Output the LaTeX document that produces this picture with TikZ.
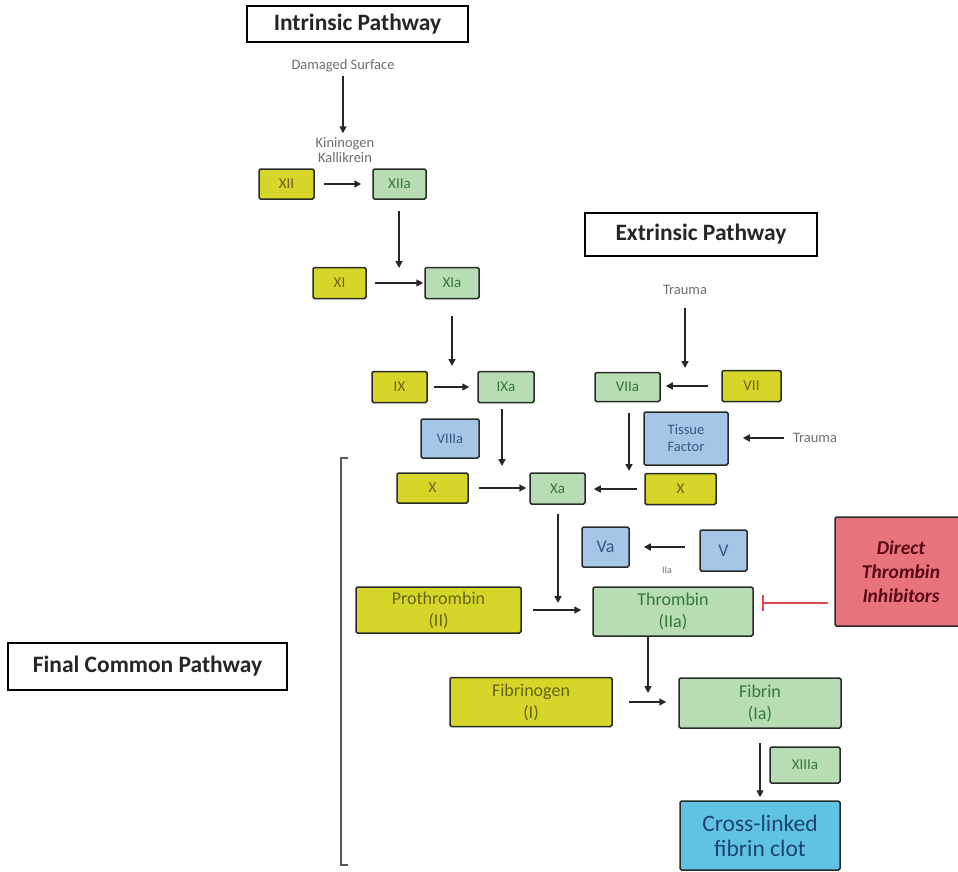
\documentclass[tikz,border=0pt]{standalone}
\usepackage{fontspec}
\setmainfont{Carlito}
\usetikzlibrary{arrows.meta}

\definecolor{yelfill}{RGB}{214,214,42}
\definecolor{yeltxt}{RGB}{104,100,18}
\definecolor{grnfill}{RGB}{184,221,180}
\definecolor{grntxt}{RGB}{52,120,56}
\definecolor{blufill}{RGB}{166,198,232}
\definecolor{blutxt}{RGB}{60,88,128}
\definecolor{clotfill}{RGB}{96,195,228}
\definecolor{clottxt}{RGB}{28,70,112}
\definecolor{dtifill}{RGB}{233,115,124}
\definecolor{dtitxt}{RGB}{88,10,22}
\definecolor{boxline}{RGB}{40,44,40}
\definecolor{arrcol}{RGB}{38,38,38}
\definecolor{lbltxt}{RGB}{110,110,110}
\definecolor{inhcol}{RGB}{225,70,78}

\begin{document}
\begin{tikzpicture}[x=1pt,y=-1pt,
  box/.style={draw=boxline, line width=1.5pt, rounded corners=1.5pt, inner sep=0pt,
              align=center, font=\fontsize{15}{17}\selectfont},
  yel/.style={box, fill=yelfill, text=yeltxt},
  grn/.style={box, fill=grnfill, text=grntxt},
  blu/.style={box, fill=blufill, text=blutxt},
  big/.style={font=\fontsize{18}{22}\selectfont},
  title/.style={draw=black, line width=1.4pt, fill=white, inner sep=0pt,
                font=\bfseries\fontsize{23.5}{26}\selectfont, text=black!85},
  lbl/.style={text=lbltxt, font=\fontsize{14.5}{15}\selectfont, align=center, inner sep=1pt},
  arr/.style={draw=arrcol, line width=1.6pt, -{Triangle[length=7pt,width=7pt]}},
  inh/.style={draw=inhcol, line width=1.7pt, -{Bar[width=16pt,line width=1.7pt]}}
]
\useasboundingbox (0,0) rectangle (958,872);
\clip (0,0) rectangle (958,872);

% ---- pathway titles
\node[title, minimum width=221pt, minimum height=36pt] (intr) at (357.5,24) {Intrinsic Pathway};
\node[title, minimum width=232pt, minimum height=43pt] (extr) at (701,234.5) {Extrinsic Pathway};
\node[title, minimum width=279pt, minimum height=47pt] (fcp) at (147.5,666.5) {Final Common Pathway};

% ---- intrinsic pathway
\node[lbl] (dmg) at (343,66) {Damaged Surface};
\node[lbl] (kin) at (345,150) {Kininogen\\Kallikrein};
\node[yel, minimum width=55pt, minimum height=30pt] (XII) at (286.5,184) {XII};
\node[grn, minimum width=53pt, minimum height=30pt] (XIIa) at (399.5,184) {XIIa};
\node[yel, minimum width=53pt, minimum height=31pt] (XI) at (339.5,283) {XI};
\node[grn, minimum width=54pt, minimum height=31pt] (XIa) at (452,283) {XIa};
\node[yel, minimum width=55pt, minimum height=31pt] (IX) at (399.5,387) {IX};
\node[grn, minimum width=56pt, minimum height=31pt] (IXa) at (506,387) {IXa};
\node[blu, minimum width=58pt, minimum height=39pt, font=\fontsize{14.5}{17}\selectfont] (VIIIa) at (450,438.5) {VIIIa};
\node[yel, minimum width=71pt, minimum height=30pt] (Xl) at (432.5,488) {X};
\node[grn, minimum width=55pt, minimum height=31pt] (Xa) at (557.5,488.5) {Xa};

% ---- extrinsic pathway
\node[lbl] (tr1) at (685,290) {Trauma};
\node[grn, minimum width=65pt, minimum height=29pt] (VIIa) at (627.5,387) {VIIa};
\node[yel, minimum width=59pt, minimum height=31pt] (VII) at (751.5,386) {VII};
\node[blu, minimum width=84pt, minimum height=53pt, font=\fontsize{14.5}{17}\selectfont] (TF) at (686,438.5) {Tissue\\Factor};
\node[lbl] (tr2) at (815,438) {Trauma};
\node[yel, minimum width=71pt, minimum height=31pt] (Xr) at (680.5,489) {X};

% ---- common pathway
\node[blu, minimum width=47pt, minimum height=40pt, font=\fontsize{18}{20}\selectfont] (Va) at (605.5,547) {Va};
\node[blu, minimum width=47pt, minimum height=41pt, font=\fontsize{18}{20}\selectfont] (V) at (723.5,550.5) {V};
\node[lbl, font=\fontsize{10}{12}\selectfont] (IIa) at (667,570) {IIa};
\node[yel, big, minimum width=165pt, minimum height=46pt] (Pro) at (438.5,610) {Prothrombin\\(II)};
\node[grn, big, minimum width=160pt, minimum height=49pt] (Thr) at (673,611.5) {Thrombin\\(IIa)};
\node[box, fill=dtifill, text=dtitxt, minimum width=132pt, minimum height=109pt,
      font=\bfseries\itshape\fontsize{19.5}{24}\selectfont] (DTI) at (901,571.5) {Direct\\Thrombin\\Inhibitors};
\node[yel, big, minimum width=162pt, minimum height=49pt] (Fgn) at (531,702) {Fibrinogen\\(I)};
\node[grn, big, minimum width=162pt, minimum height=50pt] (Fbn) at (760,703) {Fibrin\\(Ia)};
\node[grn, minimum width=70pt, minimum height=36pt] (XIIIa) at (805,765) {XIIIa};
\node[box, fill=clotfill, text=clottxt, minimum width=160pt, minimum height=69pt,
      font=\fontsize{23.5}{25}\selectfont] (clot) at (760,835.5) {Cross-linked\\fibrin clot};

% ---- free ends of arrows that point at a reaction
\coordinate (j1) at (399,268);
\coordinate (j2) at (452,366);
\coordinate (j3) at (502,466);
\coordinate (j4) at (685,368);
\coordinate (j5) at (629,471);
\coordinate (j6) at (558,603);
\coordinate (j7) at (648,693);
\coordinate (stop) at (762,603);

% ---- arrows
\draw[arr, shorten <=3pt, shorten >=3pt] (dmg.south) -- (dmg.south |- kin.north);
\draw[arr, shorten <=9pt, shorten >=11pt] (XII.east) -- (XIIa.west);
\draw[arr, shorten <=11pt] (XIIa.south -| j1) -- (j1);
\draw[arr, shorten <=8pt, shorten >=1pt] (XI.east) -- (XIa.west);
\draw[arr, shorten <=17pt] (XIa.south -| j2) -- (j2);
\draw[arr, shorten <=6pt, shorten >=8pt] (IX.east) -- (IXa.west);
\draw[arr, shorten <=6pt] (IXa.south -| j3) -- (j3);
\draw[arr, shorten <=10pt, shorten >=3pt] (Xl.east) -- (Xl.east -| Xa.west);
\draw[arr, shorten <=12pt] (tr1.south) -- (j4);
\draw[arr, shorten <=13pt, shorten >=5pt] (VII.west) -- (VII.west -| VIIa.east);
\draw[arr, shorten <=8pt, shorten >=14pt] (tr2.west) -- (tr2.west -| TF.east);
\draw[arr, shorten <=11pt] (VIIa.south -| j5) -- (j5);
\draw[arr, shorten <=7pt, shorten >=8pt] (Xr.west) -- (Xr.west -| Xa.east);
\draw[arr, shorten <=9pt] (Xa.south -| j6) -- (j6);
\draw[arr, shorten <=14pt, shorten >=14pt] (V.west |- Va.east) -- (Va.east);
\draw[arr, shorten <=11pt, shorten >=11pt] (Pro.east) -- (Pro.east -| Thr.west);
\draw[inh, shorten <=6pt] (DTI.west |- stop) -- (stop);
\draw[arr] (Thr.south -| j7) -- (j7);
\draw[arr, shorten <=16pt, shorten >=12pt] (Fgn.east) -- (Fgn.east -| Fbn.west);
\draw[arr, shorten <=14pt, shorten >=3pt] (Fbn.south -| clot.north) -- (clot.north);

% ---- bracket spanning the common pathway
\draw[draw=black!65, line width=1.5pt] (348,458) -- (341,458) -- (341,865) -- (348,865);
\end{tikzpicture}
\end{document}
